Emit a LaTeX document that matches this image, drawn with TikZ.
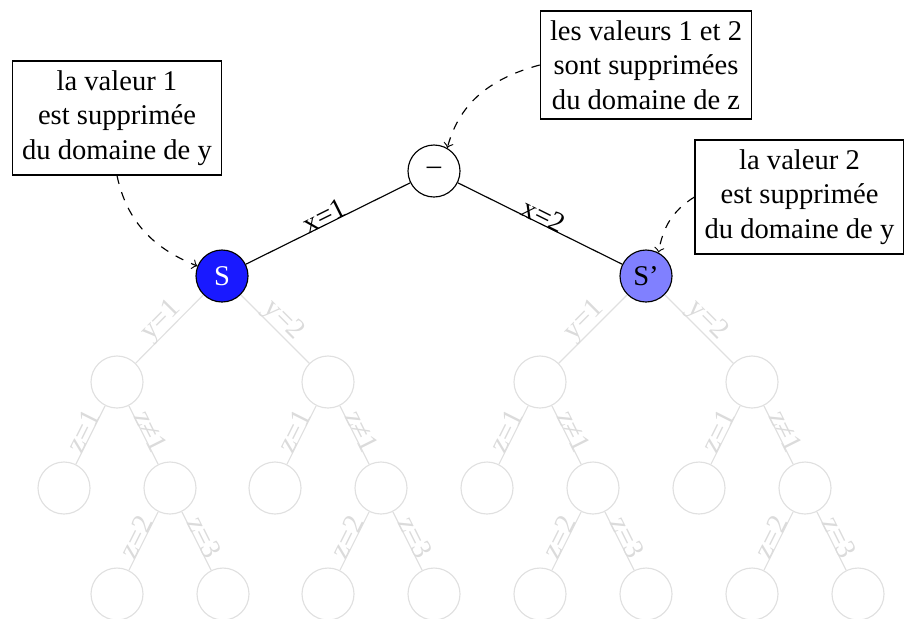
\documentclass[tikz,border=0pt]{standalone}
\usepackage{fontspec}
\setmainfont{Liberation Serif}
\begin{document}
\begin{tikzpicture}[x=0.35pt,y=0.35pt,
  bnode/.style={circle,draw,minimum size=18.2pt,inner sep=0pt},
  gnode/.style={circle,draw=black!12,minimum size=18.2pt,inner sep=0pt},
  bedge/.style={draw=black},
  gedge/.style={draw=black!12},
  elabel/.style={midway,sloped,above=-0.5pt,inner sep=0pt},
  glabel/.style={midway,sloped,above=-0.5pt,inner sep=0pt,text=black!14},
  note/.style={draw,align=center,inner sep=3.4pt},
  callout/.style={->,dashed}]
\useasboundingbox (0,0) rectangle (904,-618);
% notes
\node[note] (n1) at (117,-118) {la valeur 1\\est supprimée\\du domaine de y};
\node[note] (n2) at (646,-65) {les valeurs 1 et 2\\sont supprimées\\du domaine de z};
\node[note] (n3) at (799.5,-197) {la valeur 2\\est supprimée\\du domaine de y};
% main nodes
\node[bnode] (root) at (434,-171) {–};
\node[bnode,fill=blue!90,text=white] (S) at (222,-276) {S};
\node[bnode,fill=blue!50] (Sp) at (646,-276) {S’};
% grey level 2
\node[gnode] (a1) at (117,-382) {};
\node[gnode] (a2) at (328,-382) {};
\node[gnode] (b1) at (540,-382) {};
\node[gnode] (b2) at (752,-382) {};
% grey level 3
\node[gnode] (a11) at (64,-488) {};
\node[gnode] (a12) at (170,-488) {};
\node[gnode] (a21) at (275,-488) {};
\node[gnode] (a22) at (381,-488) {};
\node[gnode] (b11) at (487,-488) {};
\node[gnode] (b12) at (593,-488) {};
\node[gnode] (b21) at (699,-488) {};
\node[gnode] (b22) at (805,-488) {};
% grey level 4
\node[gnode] (a121) at (117,-594) {};
\node[gnode] (a122) at (223,-594) {};
\node[gnode] (a221) at (328,-594) {};
\node[gnode] (a222) at (434,-594) {};
\node[gnode] (b121) at (540,-594) {};
\node[gnode] (b122) at (646,-594) {};
\node[gnode] (b221) at (752,-594) {};
\node[gnode] (b222) at (858,-594) {};
% black edges
\draw[bedge] (root) -- node[elabel] {x=1} (S);
\draw[bedge] (root) -- node[elabel] {x=2} (Sp);
% grey edges
\foreach \p/\l/\r in {S/a1/a2, Sp/b1/b2}{
  \draw[gedge] (\p) -- node[glabel] {y=1} (\l);
  \draw[gedge] (\p) -- node[glabel] {y=2} (\r);
}
\foreach \p/\l/\r in {a1/a11/a12, a2/a21/a22, b1/b11/b12, b2/b21/b22}{
  \draw[gedge] (\p) -- node[glabel] {z=1} (\l);
  \draw[gedge] (\p) -- node[glabel] {z≠1} (\r);
}
\foreach \p/\l/\r in {a12/a121/a122, a22/a221/a222, b12/b121/b122, b22/b221/b222}{
  \draw[gedge] (\p) -- node[glabel] {z=2} (\l);
  \draw[gedge] (\p) -- node[glabel] {z=3} (\r);
}
% callouts
\draw[callout] (n1.south) to[out=-78,in=158] (S.158);
\draw[callout] (n2.west) to[out=195,in=75] (root.60);
\draw[callout] (n3.west) to[out=212,in=80] (Sp.62);
\end{tikzpicture}
\end{document}
